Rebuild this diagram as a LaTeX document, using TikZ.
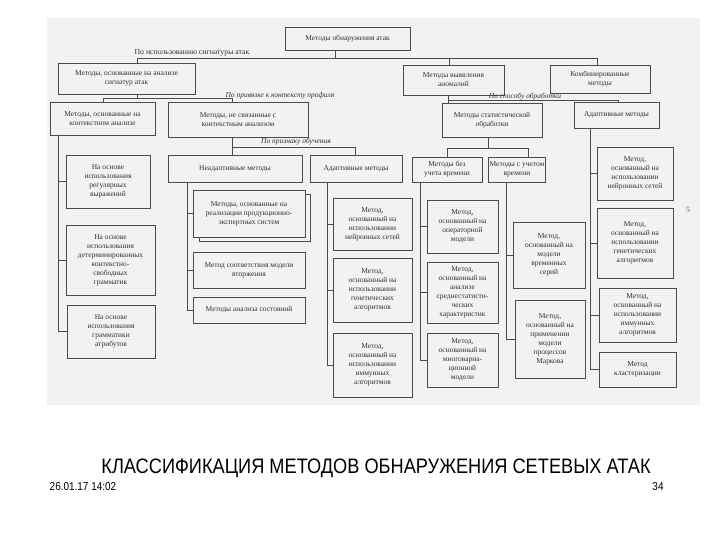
\documentclass[tikz,border=0pt]{standalone}
\usepackage{fontspec}
\setmainfont{Liberation Serif}
\newfontfamily\sansf{Liberation Sans}
\definecolor{scanbg}{gray}{0.95}
\newcommand\mybox[6]{\node[box,minimum width={(#4-#2)*1bp},minimum height={(#5-#3)*1bp}] (#1) at ({(#2+#4)/2},{(#3+#5)/2}) {#6};}
\begin{document}
\begin{tikzpicture}[x=1bp,y=-1bp,
  box/.style={draw=black!70, line width=0.5bp, fill=scanbg, inner sep=1bp, align=center,
    text=black!80, font=\fontsize{7.5}{9}\selectfont},
  conn/.style={draw=black!70, line width=0.5bp},
  lab/.style={inner sep=0pt, text=black!80, font=\fontsize{7.5}{9}\selectfont\itshape},
  foot/.style={inner sep=0pt, text=black}]
\useasboundingbox[fill=white] (0,0) rectangle (720,540);
\fill[scanbg] (47,18) rectangle (700,405);
% level 0-1
\mybox{top}{285}{27}{410}{50}{Методы обнаружения атак}
\mybox{sig}{58}{63}{195}{94}{Методы, основанные на анализе\\сигнатур атак}
\mybox{anom}{403}{65}{504}{95}{Методы выявления\\аномалий}
\mybox{comb}{550}{65}{650}{93}{Комбинированные\\методы}
% level 2
\mybox{ctx}{50}{102}{155}{135}{Методы, основанные на\\контекстном анализе}
\mybox{noctx}{168}{102}{308}{137}{Методы, не связанные с\\контекстным анализом}
\mybox{stat}{442}{103}{542}{137}{Методы статистической\\обработки}
\mybox{adR}{574}{102}{659}{128}{Адаптивные методы}
% level 3
\mybox{nonad}{168}{155}{302}{182}{Неадаптивные методы}
\mybox{adM}{310}{155}{402}{182}{Адаптивные методы}
\mybox{notime}{412}{157}{482}{182}{Методы без\\учета времени}
\mybox{time}{489}{157}{545}{182}{Методы с учетом\\времени}
% left column
\mybox{r1}{66}{155}{150}{208}{На основе\\использования\\регулярных\\выражений}
\mybox{r2}{66}{225}{155}{295}{На основе\\использования\\детерминированных\\контекстно-\\свободных\\грамматик}
\mybox{r3}{67}{305}{155}{358}{На основе\\использования\\грамматики\\атрибутов}
% non-adaptive column
\mybox{p1s}{199}{194}{310}{241}{}
\mybox{p1}{193}{190}{305}{237}{Методы, основанные на\\реализации продукционно-\\экспертных систем}
\mybox{p2}{193}{252}{305}{288}{Метод соответствия модели\\вторжения}
\mybox{p3}{193}{297}{305}{323}{Методы анализа состояний}
% adaptive (middle) column
\mybox{a1}{333}{198}{412}{250}{Метод,\\основанный на\\использовании\\нейронных сетей}
\mybox{a2}{333}{258}{412}{322}{Метод,\\основанный на\\использовании\\генетических\\алгоритмов}
\mybox{a3}{333}{333}{412}{397}{Метод,\\основанный на\\использовании\\иммунных\\алгоритмов}
% without time
\mybox{n1}{427}{200}{498}{253}{Метод,\\основанный на\\операторной\\модели}
\mybox{n2}{427}{262}{498}{323}{Метод,\\основанный на\\анализе\\среднестатисти-\\ческих\\характеристик}
\mybox{n3}{427}{333}{498}{387}{Метод,\\основанный на\\многовариа-\\ционной\\модели}
% with time
\mybox{t1}{513}{222}{585}{288}{Метод,\\основанный на\\модели\\временных\\серий}
\mybox{t2}{515}{300}{585}{378}{Метод,\\основанный на\\применении\\модели\\процессов\\Маркова}
% adaptive (right) column
\mybox{c1}{597}{147}{673}{200}{Метод,\\основанный на\\использовании\\нейронных сетей}
\mybox{c2}{597}{208}{673}{278}{Метод,\\основанный на\\использовании\\генетических\\алгоритмов}
\mybox{c3}{599}{288}{676}{342}{Метод,\\основанный на\\использовании\\иммунных\\алгоритмов}
\mybox{c4}{599}{352}{676}{387}{Метод\\кластеризации}
% labels
\node[lab,font=\fontsize{7.8}{9}\selectfont] (l1) at (192,53) {По использованию сигнатуры атак};
\node[lab] (l2) at (280,96) {По привязке к контексту профиля};
\node[lab] (l3) at (296,142) {По признаку обучения};
\node[lab] (l4) at (525,96.5) {По способу обработки};
% connectors level 0-1
\coordinate (t0) at (335,58);
\coordinate (j0) at (137,58);
\coordinate (j0r) at (597,58);
\coordinate (ja) at (449,58);
\draw[conn] (t0 |- top.south) -- (t0);
\draw[conn] (j0 |- sig.north) -- (j0) -- (j0r) -- (j0r |- comb.north);
\draw[conn] (ja) -- (ja |- anom.north);
% sig -> ctx
\coordinate (j1) at (137,98);
\coordinate (j1l) at (103,98);
\coordinate (j1r) at (232,98);
\draw[conn] (j1 |- sig.south) -- (j1);
\draw[conn] (j1l |- ctx.north) -- (j1l) -- (j1r) -- (j1r |- noctx.north);
% noctx -> nonad / adM
\coordinate (j2) at (232,147);
\coordinate (j2r) at (355,147);
\draw[conn] (j2 |- noctx.south) -- (j2 |- nonad.north);
\draw[conn] (j2) -- (j2r) -- (j2r |- adM.north);
% anom -> stat / adR
\coordinate (j3) at (448,100);
\coordinate (j3r) at (618,100);
\draw[conn] (j3 |- anom.south) -- (j3 |- stat.north);
\draw[conn] (j3) -- (j3r) -- (j3r |- adR.north);
% stat -> notime / time
\coordinate (j4) at (488,148);
\coordinate (j4l) at (447,148);
\coordinate (j4r) at (528,148);
\draw[conn] (j4 |- stat.south) -- (j4);
\draw[conn] (j4l |- notime.north) -- (j4l) -- (j4r) -- (j4r |- time.north);
% column spines
\coordinate (sA) at (58,135);
\foreach \b in {r1,r2,r3} \draw[conn] (sA) |- (\b.west);
\coordinate (sB) at (187,182);
\foreach \b in {p1,p2,p3} \draw[conn] (sB) |- (\b.west);
\coordinate (sC) at (327,182);
\foreach \b in {a1,a2,a3} \draw[conn] (sC) |- (\b.west);
\coordinate (sD) at (420,182);
\foreach \b in {n1,n2,n3} \draw[conn] (sD) |- (\b.west);
\coordinate (sE) at (506,182);
\foreach \b in {t1,t2} \draw[conn] (sE) |- (\b.west);
\coordinate (sF) at (590,128);
\foreach \b in {c1,c2,c3,c4} \draw[conn] (sF) |- (\b.west);
% stray mark
\node[inner sep=0pt, text=black!60, font=\fontsize{8}{9}\selectfont] (mk) at (688,210) {5};
% footer
\node[foot, font=\sansf\fontsize{21}{23}\selectfont] (title) at (376,468) {\scalebox{0.87}[1]{КЛАССИФИКАЦИЯ МЕТОДОВ ОБНАРУЖЕНИЯ СЕТЕВЫХ АТАК}};
\node[foot, font=\sansf\fontsize{11.5}{13}\selectfont] (date) at (83,487) {\scalebox{0.87}[1]{26.01.17 14:02}};
\node[foot, font=\sansf\fontsize{11.5}{13}\selectfont] (page) at (658,487) {\scalebox{0.87}[1]{34}};
\end{tikzpicture}
\end{document}
